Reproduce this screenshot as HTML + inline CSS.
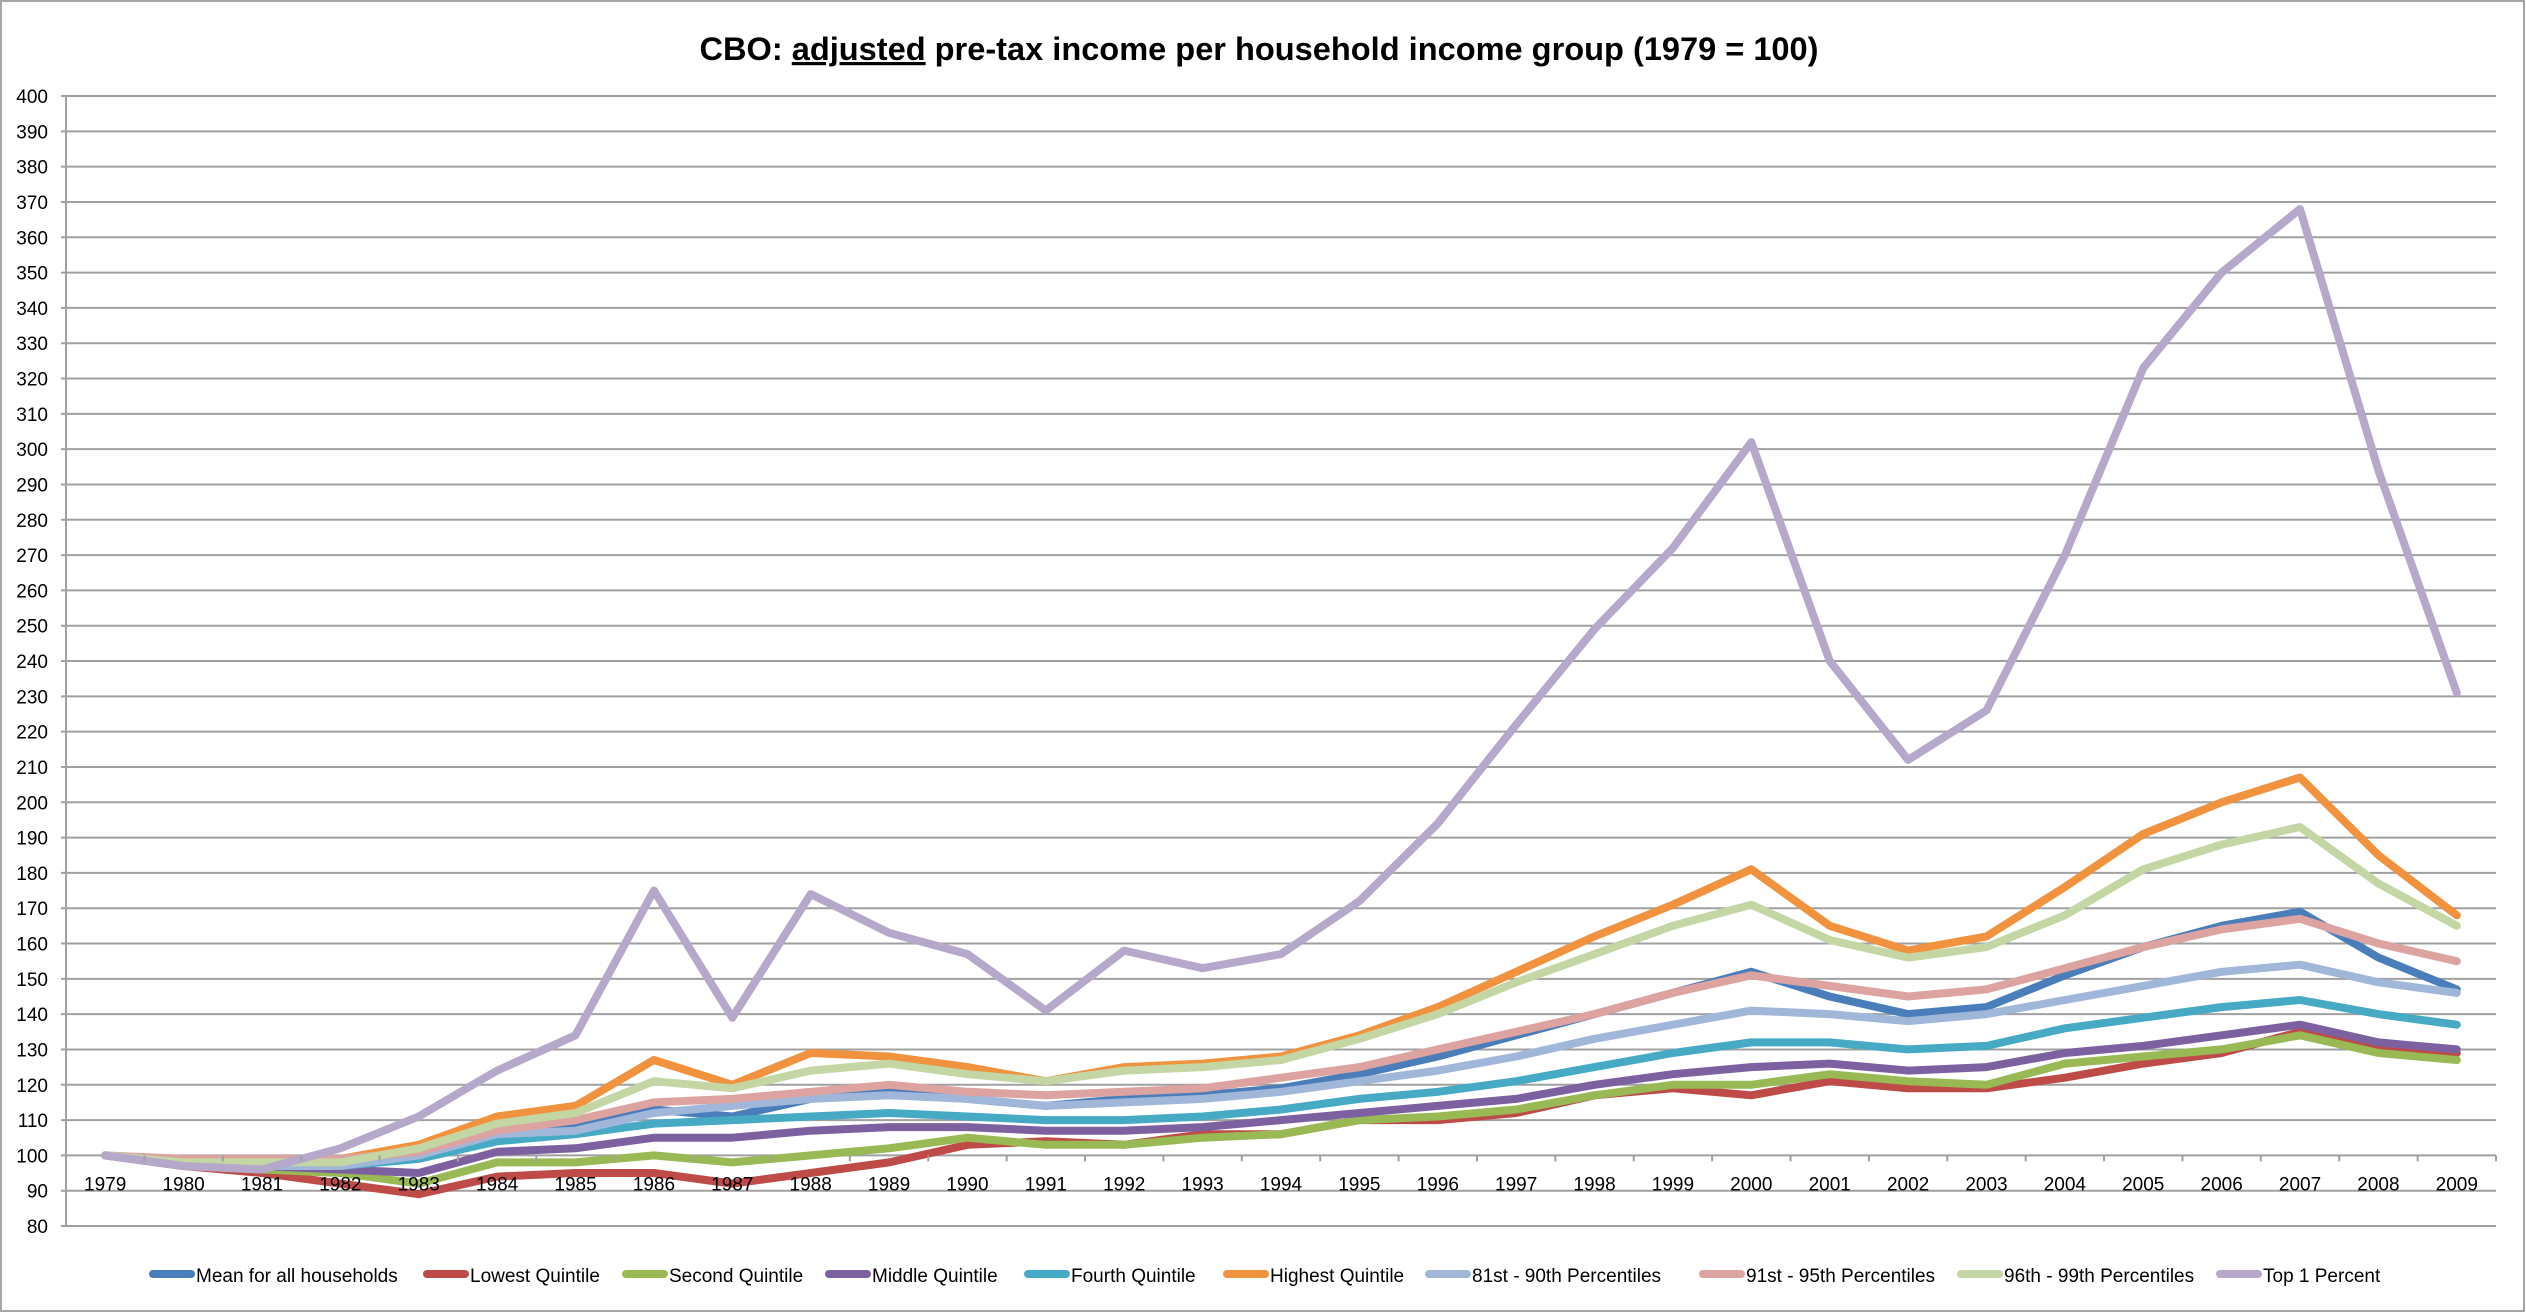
<!DOCTYPE html>
<html><head><meta charset="utf-8"><style>
html,body{margin:0;padding:0;background:#fff}
svg{display:block;font-family:"Liberation Sans",sans-serif}
</style></head><body>
<svg id="chart" width="2526" height="1313" viewBox="0 0 2526 1313">
<rect x="1" y="1" width="2523" height="1310" fill="#fff" stroke="#a6a6a6" stroke-width="2"/>
<text x="1259" y="60" text-anchor="middle" font-size="32" font-weight="bold" textLength="1119" lengthAdjust="spacingAndGlyphs">CBO: <tspan text-decoration="underline">adjusted</tspan> pre-tax income per household income group (1979 = 100)</text>
<g id="grid"></g><g id="series"></g><g id="axes"></g><g id="legend"></g>
</svg>
<script>
const years = [1979,1980,1981,1982,1983,1984,1985,1986,1987,1988,1989,1990,1991,1992,1993,1994,1995,1996,1997,1998,1999,2000,2001,2002,2003,2004,2005,2006,2007,2008,2009];
const yTicks = [80,90,100,110,120,130,140,150,160,170,180,190,200,210,220,230,240,250,260,270,280,290,300,310,320,330,340,350,360,370,380,390,400];
const seriesNames = ["Mean for all households","Lowest Quintile","Second Quintile","Middle Quintile","Fourth Quintile","Highest Quintile","81st - 90th  Percentiles","91st - 95th Percentiles","96th - 99th Percentiles","Top 1 Percent"];
const meanAll = [100,98,98,97,100,106,108,113,111,116,118,116,114,116,117,119,123,128,134,140,146,152,145,140,142,151,159,165,169,156,147];
const lowest = [100,97,95,92,89,94,95,95,92,95,98,103,104,103,106,106,110,110,112,117,119,117,121,119,119,122,126,129,135,131,129];
const second = [100,97,96,95,92,98,98,100,98,100,102,105,103,103,105,106,110,111,113,117,120,120,123,121,120,126,128,130,134,129,127];
const middle = [100,97,97,96,95,101,102,105,105,107,108,108,107,107,108,110,112,114,116,120,123,125,126,124,125,129,131,134,137,132,130];
const fourth = [100,98,97,97,99,104,106,109,110,111,112,111,110,110,111,113,116,118,121,125,129,132,132,130,131,136,139,142,144,140,137];
const highest = [100,98,98,99,103,111,114,127,120,129,128,125,121,125,126,128,134,142,152,162,171,181,165,158,162,176,191,200,207,185,168];
const p81_90 = [100,98,97,97,100,106,107,112,114,116,117,116,114,115,116,118,121,124,128,133,137,141,140,138,140,144,148,152,154,149,146];
const p91_95 = [100,99,99,99,101,107,110,115,116,118,120,118,117,118,119,122,125,130,135,140,146,151,148,145,147,153,159,164,167,160,155];
const p96_99 = [100,98,98,98,102,109,112,121,119,124,126,123,121,124,125,127,133,140,149,157,165,171,161,156,159,168,181,188,193,177,165];
const top1 = [100,97,96,102,111,124,134,175,139,174,163,157,141,158,153,157,172,194,222,249,272,302,240,212,226,270,323,350,368,294,231];
const allSeries = [meanAll,lowest,second,middle,fourth,highest,p81_90,p91_95,p96_99,top1];
const colors = ["#4a7ebb","#be4b48","#98b954","#7d60a0","#46aac5","#f0923e","#a0b7da","#dca3a1","#c3d6a4","#b5a8ca"];
const slugs = ["mean","lowest-quintile","second-quintile","middle-quintile","fourth-quintile","highest-quintile","p81-90","p91-95","p96-99","top-1-percent"];
const legendX = [149,423,622,825,1024,1223,1425,1699,1957,2216];

const NS="http://www.w3.org/2000/svg";
const L=66,R=2496,T=96,B=1226,vMin=80,vMax=400;
const step=(R-L)/years.length;
function xs(i){return L+step*(i+0.5);}
function ys(v){return B-(v-vMin)/(vMax-vMin)*(B-T);}
function mk(tag,attrs,parent){const e=document.createElementNS(NS,tag);for(const k in attrs)e.setAttribute(k,attrs[k]);parent.appendChild(e);return e;}
const grid=document.getElementById('grid'),axes=document.getElementById('axes'),ser=document.getElementById('series'),leg=document.getElementById('legend');
yTicks.forEach(v=>{
  const g=mk('line',{x1:L-5,x2:R,y1:ys(v),y2:ys(v),stroke:'#a0a0a0','stroke-width':2},grid);
  
  
  const t=mk('text',{x:48,y:ys(v)+7,'text-anchor':'end','font-size':19},axes);
  t.textContent=v;
  
  
});
const va=mk('line',{x1:L,x2:L,y1:T,y2:B,stroke:'#a0a0a0','stroke-width':2},axes);


const y100=ys(100);
for(let i=0;i<=years.length;i++){
  const tk=mk('line',{x1:L+step*i,x2:L+step*i,y1:y100,y2:y100+6,stroke:'#a0a0a0','stroke-width':2},axes);
  
  
}
years.forEach((yr,i)=>{
  const t=mk('text',{x:xs(i),y:y100+35,'text-anchor':'middle','font-size':19},axes);
  t.textContent=yr;
  
  
});
allSeries.forEach((d,s)=>{
  const p=mk('polyline',{points:d.map((v,i)=>xs(i).toFixed(1)+','+ys(v).toFixed(1)).join(' '),fill:'none',stroke:colors[s],'stroke-width':8,'stroke-linejoin':'round','stroke-linecap':'round'},ser);
  
  
  const sw=mk('line',{x1:legendX[s]+4,x2:legendX[s]+42,y1:1274,y2:1274,stroke:colors[s],'stroke-width':8,'stroke-linecap':'round'},leg);
  
  
  const t=mk('text',{x:legendX[s]+47,y:1282,'font-size':19},leg);
  t.textContent=seriesNames[s];
  
  
});
</script>
</body></html>
